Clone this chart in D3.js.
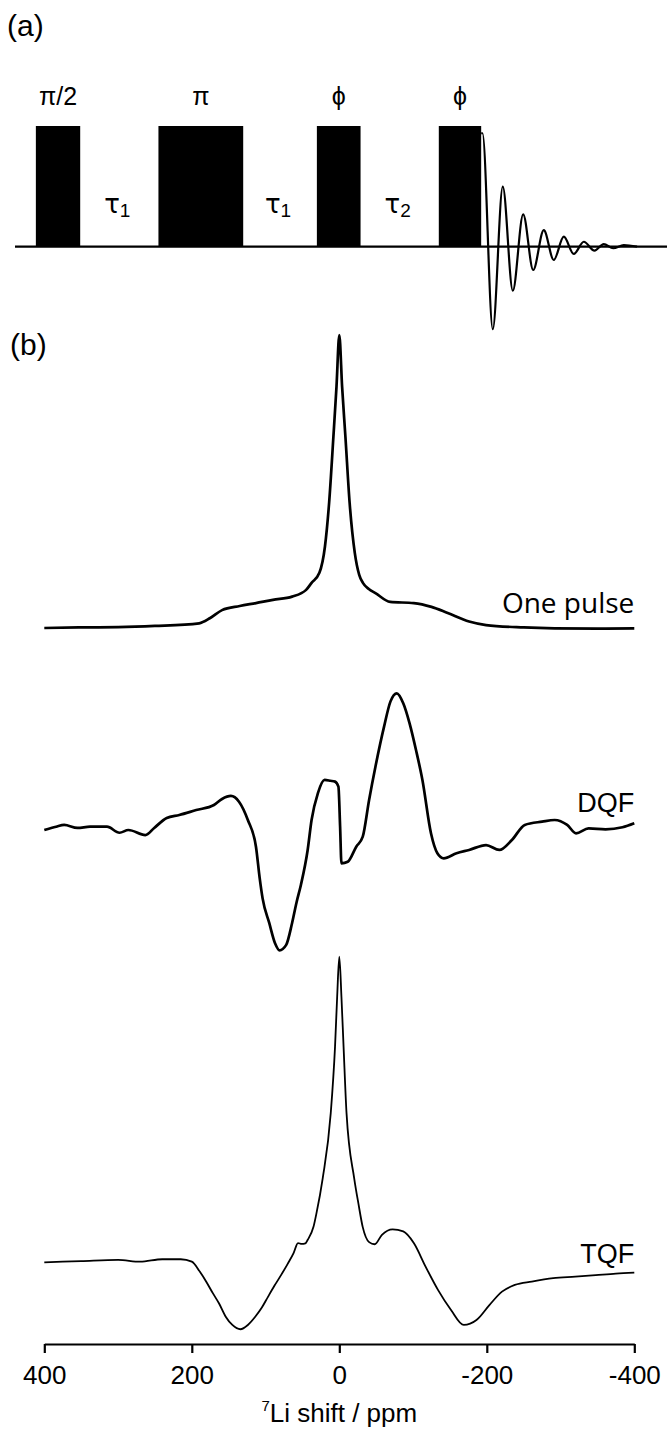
<!DOCTYPE html>
<html><head><meta charset="utf-8">
<script src="https://cdn.jsdelivr.net/npm/d3@7"></script>
<style>
html,body{margin:0;padding:0;background:#fff;}
svg{display:block;}
text{font-family:"Liberation Sans",Arial,Helvetica,sans-serif;fill:#000;}
</style></head>
<body>
<svg id="chart" width="667" height="1432"></svg>
<script>
// ---------- (a) pulse sequence (time in arbitrary units, amplitude relative) ----------
const pulseLabels = ["π/2", "π", "ϕ", "ϕ"];
const pulseStart = [3.2, 22.0, 46.3, 65.0];
const pulseEnd   = [10.0, 35.0, 53.0, 71.5];
const delayLabels = ["1", "1", "2"];          // τ subscripts
const fidTime = [0.2, 1.78, 3.31, 4.85, 6.44, 7.98, 9.6, 11.13, 12.67, 14.2, 15.74, 17.38, 18.8, 20.25, 21.87, 23.9];
const fidAmp  = [0.94, -0.684, 0.497, -0.365, 0.268, -0.193, 0.138, -0.11, 0.083, -0.06, 0.041, -0.033, 0.022, -0.013, 0.014, 0];

// ---------- (b) spectra: ppm and intensity (% of max) ----------
const onePulsePpm = [400, 350, 300, 250, 190, 175, 159, 135, 113, 90, 64, 45, 37.6, 27, 19.5, 13.8, 8, 3.8, 0, -3.8, -8.3, -14, -21, -27, -32, -40, -49, -69, -101, -125, -147, -176, -199, -250, -292, -350, -400];
const onePulseVal = [0.1, 0.3, 0.4, 0.8, 1.7, 3.5, 6.2, 7.6, 8.6, 9.7, 10.8, 13.1, 15.5, 18.9, 27.8, 42.8, 65.3, 82.4, 100, 82.4, 65.3, 42.8, 25.7, 18.2, 15.5, 13.4, 12.0, 9.0, 8.6, 7.3, 5.2, 2.3, 1.1, 0.3, 0, -0.1, 0];

const dqfPpm = [400, 384, 373, 355, 338, 315, 298, 286, 263, 251, 234, 217, 194, 170, 159, 147, 136, 124, 113, 108, 104, 95, 87, 81, 72, 64, 58, 52, 43, 37.6, 29, 20, 12, 5.8, 1.2, -1.1, -2.9, -11.5, -23, -31.8, -40.4, -49, -60.7, -69.3, -78, -86.7, -95.3, -104, -112.7, -124.3, -133, -141.6, -159, -176, -199, -217, -234, -251.5, -275, -292, -309, -321, -338, -361, -384, -400];
const dqfVal = [0, 2.4, 3.7, 1.5, 2.4, 2.4, -2.0, 0, -3.7, 1.5, 8.8, 11, 14.6, 18.3, 22.7, 24.9, 20.7, 7.3, -12.2, -35, -50, -68, -83, -88, -84, -68, -53, -40, -15, 7.3, 27, 36.6, 36, 35.4, 31.7, 2.4, -24.4, -23.2, -12.2, -4.9, 22, 46.3, 75.6, 93.9, 100, 92.7, 78, 58.5, 36.6, -2.4, -17, -20.7, -17, -14.6, -11, -14.6, -7.3, 3.7, 6.1, 7.3, 3.7, -2.4, 1.2, 0.5, 2, 4.9];

const tqfPpm = [400, 350, 300, 270, 240, 215, 200, 189, 180, 171.5, 163, 154, 145, 134, 124, 114, 105, 96.7, 88, 79, 70, 62, 56, 51, 46, 43, 35, 31, 22.5, 11.6, 5.8, 2.9, 0, -2.9, -5.8, -9.8, -20.2, -26, -31.8, -40.4, -48, -57.8, -72.3, -86.7, -101, -117, -134, -151.5, -168.8, -186, -203.5, -220.6, -238, -261, -290, -320, -347.7, -375, -400];
const tqfVal = [0, 0.4, 0.8, 0.2, 1.0, 1.0, 0.2, -3.1, -6.5, -10.1, -13.5, -17.8, -20.5, -21.9, -20.5, -17.8, -14.8, -11.3, -7.7, -4.2, -0.5, 3.0, 6.3, 6.0, 6.2, 7.3, 11.6, 16, 27.5, 48.8, 70.5, 86.9, 100, 86.9, 70.5, 48.8, 27.5, 19.1, 11.5, 6.6, 5.9, 9.0, 10.8, 10.1, 6.3, -1.4, -9.1, -15.6, -20.5, -18.9, -14, -9.6, -7.4, -6.3, -5.2, -4.7, -4.2, -3.7, -3.4];

const spectrumLabels = ["One pulse", "DQF", "TQF"];
const axisTicks = [400, 200, 0, -200, -400];
const axisTitleMain = "Li shift / ppm";
const axisTitleSup = "7";

// ---------- drawing ----------
const svg = d3.select("#chart");

// panel labels
svg.append("text").attr("x", 7).attr("y", 36).style("font-size", "30px").text("(a)");
svg.append("text").attr("x", 10).attr("y", 355).style("font-size", "30px").text("(b)");

// (a) scales
const tx = d3.scaleLinear().domain([0, 100]).range([15, 667]);
const ay = d3.scaleLinear().domain([-1, 1]).range([367.4, 126]);

// baseline
svg.append("line")
  .attr("x1", tx(0)).attr("x2", tx(100))
  .attr("y1", ay(0)).attr("y2", ay(0))
  .attr("stroke", "#000").attr("stroke-width", 2.2);

const pulses = pulseStart.map((s, i) => ({s, e: pulseEnd[i], label: pulseLabels[i]}));
svg.selectAll("rect.pulse").data(pulses).enter().append("rect")
  .attr("class", "pulse")
  .attr("x", d => tx(d.s)).attr("width", d => tx(d.e) - tx(d.s))
  .attr("y", ay(1)).attr("height", ay(0) - ay(1))
  .attr("fill", "#000");

svg.selectAll("text.plabel").data(pulses).enter().append("text")
  .attr("class", "plabel")
  .attr("x", d => tx((d.s + d.e) / 2)).attr("y", 105)
  .attr("text-anchor", "middle")
  .style("font-size", "25px")
  .text(d => d.label);

// delays between pulses
const delays = delayLabels.map((sub, i) => ({c: (pulseEnd[i] + pulseStart[i + 1]) / 2, sub}));
const dl = svg.selectAll("text.dlabel").data(delays).enter().append("text")
  .attr("class", "dlabel")
  .attr("x", d => tx(d.c) - 2).attr("y", 213)
  .attr("text-anchor", "middle")
  .style("font-size", "26px");
dl.append("tspan").style("font-family", "'DejaVu Sans',sans-serif").text("τ");
dl.append("tspan").attr("dy", 4).style("font-size", "19px").text(d => d.sub);

// FID
const fidData = fidTime.map((t, i) => ({t: pulseEnd[3] + t, a: fidAmp[i]}));
fidData.unshift({t: pulseEnd[3], a: fidAmp[0]});
svg.append("path").datum(fidData)
  .attr("fill", "none").attr("stroke", "#000").attr("stroke-width", 2.2)
  .attr("d", d3.line().x(d => tx(d.t)).y(d => ay(d.a)).curve(d3.curveMonotoneX));

// (b) spectra
const x = d3.scaleLinear().domain([400, -400]).range([44.3, 634.3]);
const specs = [
  {ppm: onePulsePpm, val: onePulseVal, y: d3.scaleLinear().domain([0, 100]).range([628.3, 335]), w: 2.7, label: spectrumLabels[0], ly: 613, font: "'Open Sans', sans-serif", fs: 28},
  {ppm: dqfPpm, val: dqfVal, y: d3.scaleLinear().domain([0, 100]).range([830, 693.3]), w: 2.7, label: spectrumLabels[1], ly: 811.5, font: null, fs: 27},
  {ppm: tqfPpm, val: tqfVal, y: d3.scaleLinear().domain([0, 100]).range([1262.3, 956.7]), w: 1.8, label: spectrumLabels[2], ly: 1263.3, font: null, fs: 27}
];
specs.forEach(s => {
  const data = s.ppm.map((p, i) => ({p, v: s.val[i]}));
  svg.append("path").datum(data)
    .attr("fill", "none").attr("stroke", "#000")
    .attr("stroke-width", s.w).attr("stroke-linejoin", "round")
    .attr("d", d3.line().x(d => x(d.p)).y(d => s.y(d.v)).curve(d3.curveMonotoneX));
  const t = svg.append("text").attr("x", x(-400)).attr("y", s.ly)
    .attr("text-anchor", "end").style("font-size", s.fs + "px").text(s.label);
  if (s.font) t.style("font-family", s.font);
});

// x axis
const axisG = svg.append("g").attr("transform", "translate(0,1344)")
  .call(d3.axisBottom(x).tickValues(axisTicks).tickSize(9).tickSizeOuter(0).tickPadding(13)
    .tickFormat(d => String(d)));
axisG.select(".domain").attr("stroke-width", 2.2);
axisG.selectAll(".tick line").attr("stroke-width", 2.2);
axisG.selectAll(".tick text")
  .style("font-family", "'Liberation Sans',Arial,sans-serif")
  .style("font-size", "26px").attr("dy", "0.71em");

const title = svg.append("text").attr("x", x(0)).attr("y", 1422)
  .attr("text-anchor", "middle").style("font-size", "26px");
title.append("tspan").attr("dy", -11).style("font-size", "15px").text(axisTitleSup);
title.append("tspan").attr("dy", 11).text(axisTitleMain);
</script>
</body></html>
